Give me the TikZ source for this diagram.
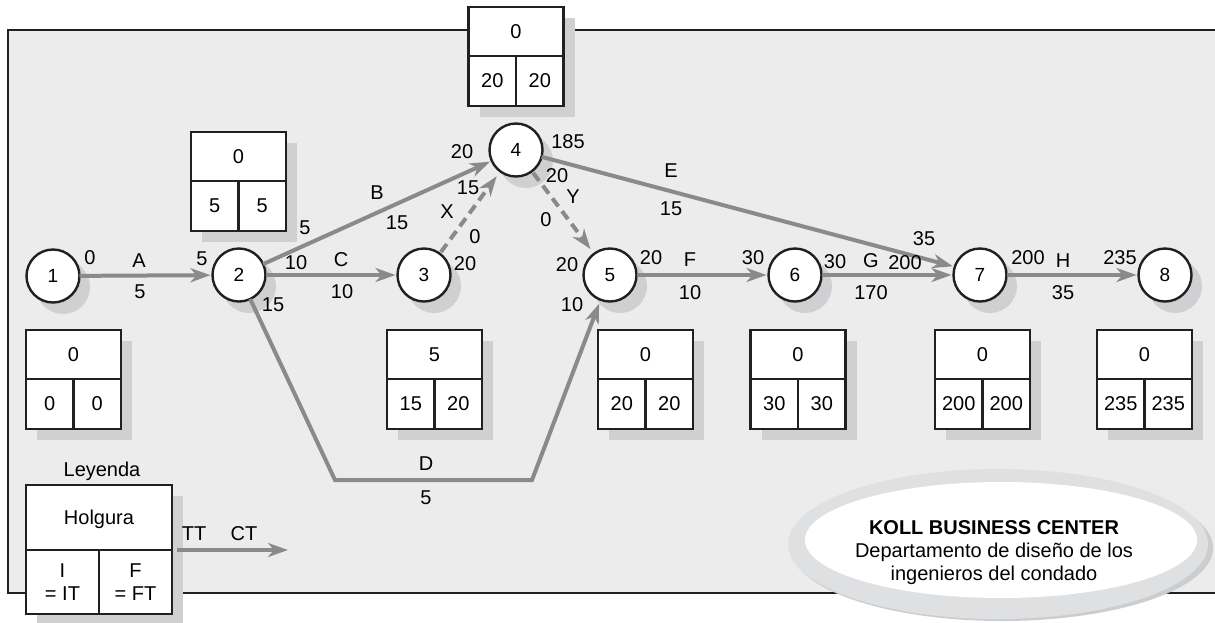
\documentclass[tikz,border=0pt]{standalone}
\usepackage{fontspec}
\setmainfont{Liberation Sans}
\usetikzlibrary{arrows.meta,shapes.geometric}
\definecolor{framebg}{RGB}{236,236,237}
\definecolor{ink}{RGB}{35,31,32}
\definecolor{edgec}{RGB}{137,138,140}
\definecolor{shadowc}{RGB}{207,208,210}
\definecolor{ringc}{RGB}{223,224,226}
\definecolor{ringd}{RGB}{204,205,207}
\tikzset{
  every node/.style={font=\fontsize{20}{23}\selectfont, inner sep=0pt, outer sep=0pt, text depth=0pt},
  evt/.style={circle, draw=ink, line width=2.4pt, fill=white, minimum size=53pt, font=\fontsize{19}{22}\selectfont},
  act/.style={draw=edgec, line width=4pt, -{Stealth[length=20pt,width=14pt,inset=6pt]}, shorten >=2pt},
  dummy/.style={act, dash pattern=on 10pt off 6pt, shorten >=6pt, shorten <=2pt},
  cell/.style={draw=ink, line width=2.4pt, fill=white, minimum width=95pt, minimum height=49pt},
  halfcell/.style={draw=ink, line width=2.4pt, fill=white, minimum width=47.5pt, minimum height=50pt},
  lcell/.style={draw=ink, line width=2.4pt, fill=white, minimum width=146pt, minimum height=65pt},
  lhalf/.style={draw=ink, line width=2.4pt, fill=white, minimum width=73pt, minimum height=64pt, align=center},
}
\newcommand\evnode[4]{%
  \fill[shadowc] (#2+10,#3+11) circle[radius=27];
  \node[evt] (#1) at (#2,#3) {#4};}
\newcommand\slack[6]{%
  \fill[shadowc] (#2-47.5+11,#3+11) rectangle (#2+47.5+11,#3+99+11);
  \node[cell] (#1t) at (#2,#3+24.5) {#4};
  \node[halfcell] (#1l) at (#2-23.75,#3+74) {#5};
  \node[halfcell] (#1r) at (#2+23.75,#3+74) {#6};}
\newcommand\lab[4]{\node (#1) at (#2,#3) {#4};}
\begin{document}
\begin{tikzpicture}[x=1pt,y=-1pt]
\useasboundingbox (0,0) rectangle (1215,622);
\clip (0,0) rectangle (1215,622);
% frame
\fill[framebg] (8,30) rectangle (1230,593);
\draw[ink, line width=2.6pt] (1230,30) -- (8,30) -- (8,593) -- (1230,593);
% ellipse banner
\fill[ringd] (1002,548) ellipse[x radius=211, y radius=73];
\fill[ringc] (998,544) ellipse[x radius=210, y radius=75];
\fill[white] (1001,540) ellipse[x radius=196, y radius=58];
\node[align=center] (koll) at (994,551) {\textbf{KOLL BUSINESS CENTER}\\Departamento de diseño de los\\ingenieros del condado};
% slack boxes
\slack{b1}{73.5}{330}{0}{0}{0}
\slack{b2}{238.5}{132}{0}{5}{5}
\slack{b3}{434.5}{330}{5}{15}{20}
\slack{b4}{516}{7}{0}{20}{20}
\slack{b5}{645.5}{330}{0}{20}{20}
\slack{b6}{798}{330}{0}{30}{30}
\slack{b7}{982.5}{330}{0}{200}{200}
\slack{b8}{1144.5}{330}{0}{235}{235}
% events
\evnode{n1}{53}{276}{1}
\evnode{n2}{239}{275}{2}
\evnode{n3}{424}{275}{3}
\evnode{n4}{516}{150}{4}
\evnode{n5}{610}{275}{5}
\evnode{n6}{795}{275}{6}
\evnode{n7}{980}{275}{7}
\evnode{n8}{1165}{275}{8}
\coordinate (dL) at (335,480);
\coordinate (dR) at (532,480);
% activities
\draw[act] (n1) -- (n2);
\draw[act] (n2) -- (n4);
\draw[act] (n2) -- (n3);
\draw[dummy] (n3) -- (n4);
\draw[dummy] (n4) -- (n5);
\draw[act, shorten >=4pt] (n2) -- (dL) -- (dR) -- (n5);
\draw[act] (n4) -- (n7.162);
\draw[act] (n5) -- (n6);
\draw[act] (n6) -- (n7);
\draw[act] (n7) -- (n8);
% labels
\lab{l1}{90}{258}{0}
\lab{l2}{139}{261}{A}
\lab{l3}{140}{292}{5}
\lab{l4}{202}{259}{5}
\lab{l5}{305}{228}{5}
\lab{l6}{377}{193}{B}
\lab{l7}{397}{223}{15}
\lab{l8}{462}{152}{20}
\lab{l9}{296}{263}{10}
\lab{l10}{341}{260}{C}
\lab{l11}{342}{292}{10}
\lab{l12}{273}{305}{15}
\lab{l13}{468}{188}{15}
\lab{l14}{447}{212}{X}
\lab{l15}{475}{237}{0}
\lab{l16}{465}{264}{20}
\lab{l17}{568}{142}{185}
\lab{l18}{557}{176}{20}
\lab{l19}{573}{197}{Y}
\lab{l20}{546}{220}{0}
\lab{l21}{567}{265}{20}
\lab{l22}{671}{171}{E}
\lab{l23}{671}{209}{15}
\lab{l24}{572}{305}{10}
\lab{l25}{651}{258}{20}
\lab{l26}{690}{260}{F}
\lab{l27}{690}{293}{10}
\lab{l28}{753}{258}{30}
\lab{l29}{835}{262}{30}
\lab{l30}{871}{261}{G}
\lab{l31}{905}{263}{200}
\lab{l32}{871}{293}{170}
\lab{l33}{924}{239}{35}
\lab{l34}{1028}{258}{200}
\lab{l35}{1063}{261}{H}
\lab{l36}{1063}{293}{35}
\lab{l37}{1120}{258}{235}
\lab{l38}{426}{464}{D}
\lab{l39}{426}{498}{5}
% legend
\lab{ley}{102}{469}{Leyenda}
\fill[shadowc] (26+11,485+11) rectangle (172+11,614+11);
\node[lcell] (lgt) at (99,517.5) {Holgura};
\node[lhalf] (lgl) at (62.5,582) {I\\= IT};
\node[lhalf] (lgr) at (135.5,582) {F\\= FT};
\coordinate (lgA) at (177,550);
\coordinate (lgB) at (288,550);
\draw[act, shorten >=0pt] (lgA) -- (lgB);
\lab{ltt}{194}{534}{TT}
\lab{lct}{244}{534}{CT}
\end{tikzpicture}
\end{document}
